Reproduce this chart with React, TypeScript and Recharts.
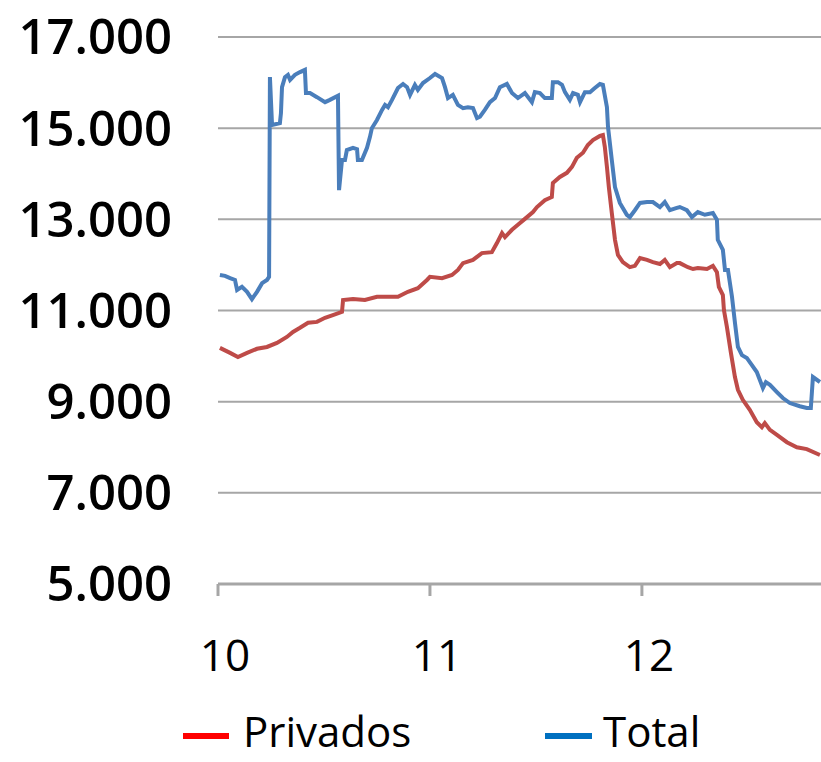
import { LineChart, Line, XAxis, YAxis, CartesianGrid } from 'recharts'

// fechas en años (10 = 2010), valores en número de …
const fechasTotal = [
  10.009, 10.033, 10.057, 10.08, 10.09, 10.113, 10.137, 10.16, 10.184, 10.208, 10.231, 10.241,
  10.245, 10.255, 10.292, 10.297, 10.302, 10.316, 10.33, 10.34, 10.363, 10.387, 10.41, 10.415,
  10.434, 10.467, 10.505, 10.528, 10.566, 10.571, 10.585, 10.599, 10.608, 10.637, 10.656, 10.66,
  10.679, 10.703, 10.717, 10.726, 10.75, 10.774, 10.788, 10.802, 10.821, 10.849, 10.873, 10.892,
  10.906, 10.929, 10.943, 10.967, 11.0, 11.024, 11.057, 11.071, 11.085, 11.108, 11.132, 11.156,
  11.179, 11.203, 11.222, 11.236, 11.259, 11.283, 11.307, 11.33, 11.363, 11.387, 11.415, 11.448,
  11.481, 11.495, 11.519, 11.542, 11.575, 11.58, 11.604, 11.623, 11.637, 11.66, 11.675, 11.698,
  11.708, 11.731, 11.755, 11.778, 11.802, 11.816, 11.835, 11.84, 11.858, 11.873, 11.896, 11.929,
  11.943, 11.967, 11.991, 12.024, 12.052, 12.085, 12.108, 12.132, 12.165, 12.179, 12.212, 12.236,
  12.264, 12.297, 12.335, 12.354, 12.358, 12.382, 12.392, 12.406, 12.425, 12.439, 12.453, 12.472,
  12.495, 12.519, 12.542, 12.557, 12.571, 12.585, 12.604, 12.637, 12.665, 12.698, 12.745, 12.778,
  12.797, 12.807, 12.84,
]
const total = [
  11780, 11760, 11710, 11670, 11450, 11520, 11410, 11250, 11410, 11600, 11670, 11740,
  16120, 15070, 15110, 15330, 15900, 16120, 16170, 16060, 16170, 16230, 16280, 15770,
  15770, 15680, 15570, 15620, 15710, 13640, 14300, 14300, 14520, 14570, 14540, 14300,
  14300, 14570, 14810, 15000, 15180, 15400, 15510, 15460, 15620, 15880, 15970, 15900,
  15730, 15950, 15840, 15990, 16100, 16190, 16100, 15900, 15660, 15730, 15510, 15440,
  15460, 15440, 15220, 15250, 15400, 15570, 15660, 15900, 15970, 15770, 15660, 15770,
  15570, 15790, 15770, 15660, 15660, 16010, 16010, 15950, 15790, 15620, 15770, 15730,
  15570, 15790, 15790, 15880, 15970, 15950, 15460, 15030, 14300, 13710, 13360, 13100,
  13050, 13200, 13360, 13380, 13380, 13270, 13380, 13200, 13250, 13270, 13200, 13050,
  13160, 13100, 13140, 12990, 12550, 12330, 11890, 11890, 11300, 10730, 10200, 10020,
  9960, 9800, 9650, 9470, 9300, 9430, 9370, 9210, 9080, 8970, 8900, 8860,
  8860, 9540, 9430,
]

const fechasPrivados = [
  10.009, 10.057, 10.094, 10.137, 10.184, 10.231, 10.278, 10.325, 10.354, 10.387, 10.425, 10.467,
  10.505, 10.542, 10.585, 10.59, 10.637, 10.693, 10.75, 10.849, 10.896, 10.943, 10.986, 11.0,
  11.057, 11.104, 11.132, 11.156, 11.203, 11.245, 11.292, 11.316, 11.34, 11.354, 11.387, 11.415,
  11.448, 11.486, 11.505, 11.542, 11.575, 11.58, 11.613, 11.646, 11.67, 11.693, 11.722, 11.745,
  11.769, 11.802, 11.816, 11.825, 11.835, 11.844, 11.858, 11.873, 11.887, 11.91, 11.943, 11.967,
  11.991, 12.024, 12.052, 12.085, 12.108, 12.132, 12.165, 12.179, 12.217, 12.241, 12.264, 12.307,
  12.335, 12.354, 12.363, 12.382, 12.387, 12.401, 12.42, 12.439, 12.453, 12.476, 12.509, 12.542,
  12.566, 12.58, 12.604, 12.637, 12.684, 12.731, 12.778, 12.84,
]
const privados = [
  10180, 10070, 9980, 10070, 10160, 10200, 10290, 10420, 10530, 10620, 10730, 10750,
  10840, 10900, 10970, 11230, 11250, 11230, 11300, 11300, 11410, 11490, 11670, 11740,
  11710, 11780, 11890, 12040, 12110, 12260, 12280, 12480, 12700, 12610, 12770, 12880,
  13010, 13160, 13270, 13420, 13490, 13800, 13930, 14020, 14150, 14350, 14460, 14630,
  14740, 14830, 14850, 14590, 14150, 13710, 13140, 12550, 12220, 12060, 11950, 11980,
  12150, 12110, 12060, 12020, 12110, 11950, 12040, 12040, 11950, 11910, 11930, 11910,
  11980, 11840, 11520, 11340, 11010, 10640, 10070, 9540, 9260, 9040, 8820, 8550,
  8440, 8530, 8380, 8270, 8110, 8000, 7960, 7830,
]

const ticksY = [5000, 7000, 9000, 11000, 13000, 15000, 17000]
const ticksX = [10, 11, 12]

const totalData = fechasTotal.map((t, i) => ({ t, v: total[i] }))
const privadosData = fechasPrivados.map((t, i) => ({ t, v: privados[i] }))

const fmt = (v: number) => v.toLocaleString('de-DE')

export default function App() {
  return (
    <div style={{ position: 'absolute', left: 0, top: 0, width: 821, height: 762, overflow: 'hidden', background: '#fff' }}>
      <LineChart width={821} height={762} margin={{ top: 37, right: 0, bottom: 0, left: 0 }}>
        <CartesianGrid horizontal vertical={false} stroke="#a6a6a6" strokeWidth={2} />
        <XAxis
          type="number"
          dataKey="t"
          domain={[10, 12.845]}
          ticks={ticksX}
          allowDataOverflow
          height={178}
          tickSize={12}
          tickMargin={44}
          axisLine={{ stroke: '#a6a6a6', strokeWidth: 3 }}
          tickLine={{ stroke: '#a6a6a6', strokeWidth: 3 }}
          tick={{ fill: '#000', fontSize: 44, fontFamily: 'Open Sans', dx: 7 }}
        />
        <YAxis
          type="number"
          domain={[5000, 17000]}
          ticks={ticksY}
          width={218}
          tickSize={0}
          tickMargin={46}
          axisLine={false}
          tickLine={false}
          tickFormatter={fmt}
          tick={{ fill: '#000', fontSize: 49, fontFamily: 'Open Sans', fontWeight: 600 }}
        />
        <Line data={privadosData} dataKey="v" type="linear" stroke="#be4b48" strokeWidth={4} dot={false} isAnimationActive={false} />
        <Line data={totalData} dataKey="v" type="linear" stroke="#4a7ebb" strokeWidth={4} dot={false} isAnimationActive={false} />
      </LineChart>
      <svg width={821} height={762} style={{ position: 'absolute', left: 0, top: 0, pointerEvents: 'none' }}>
        <line x1={183} x2={229} y1={736} y2={736} stroke="#ff0000" strokeWidth={6} />
        <text x={243} y={747} fontSize={42} fontFamily="Open Sans" fill="#000">Privados</text>
        <line x1={545} x2={592} y1={736} y2={736} stroke="#0070c0" strokeWidth={6} />
        <text x={603} y={747} fontSize={42} fontFamily="Open Sans" fill="#000">Total</text>
      </svg>
    </div>
  )
}
